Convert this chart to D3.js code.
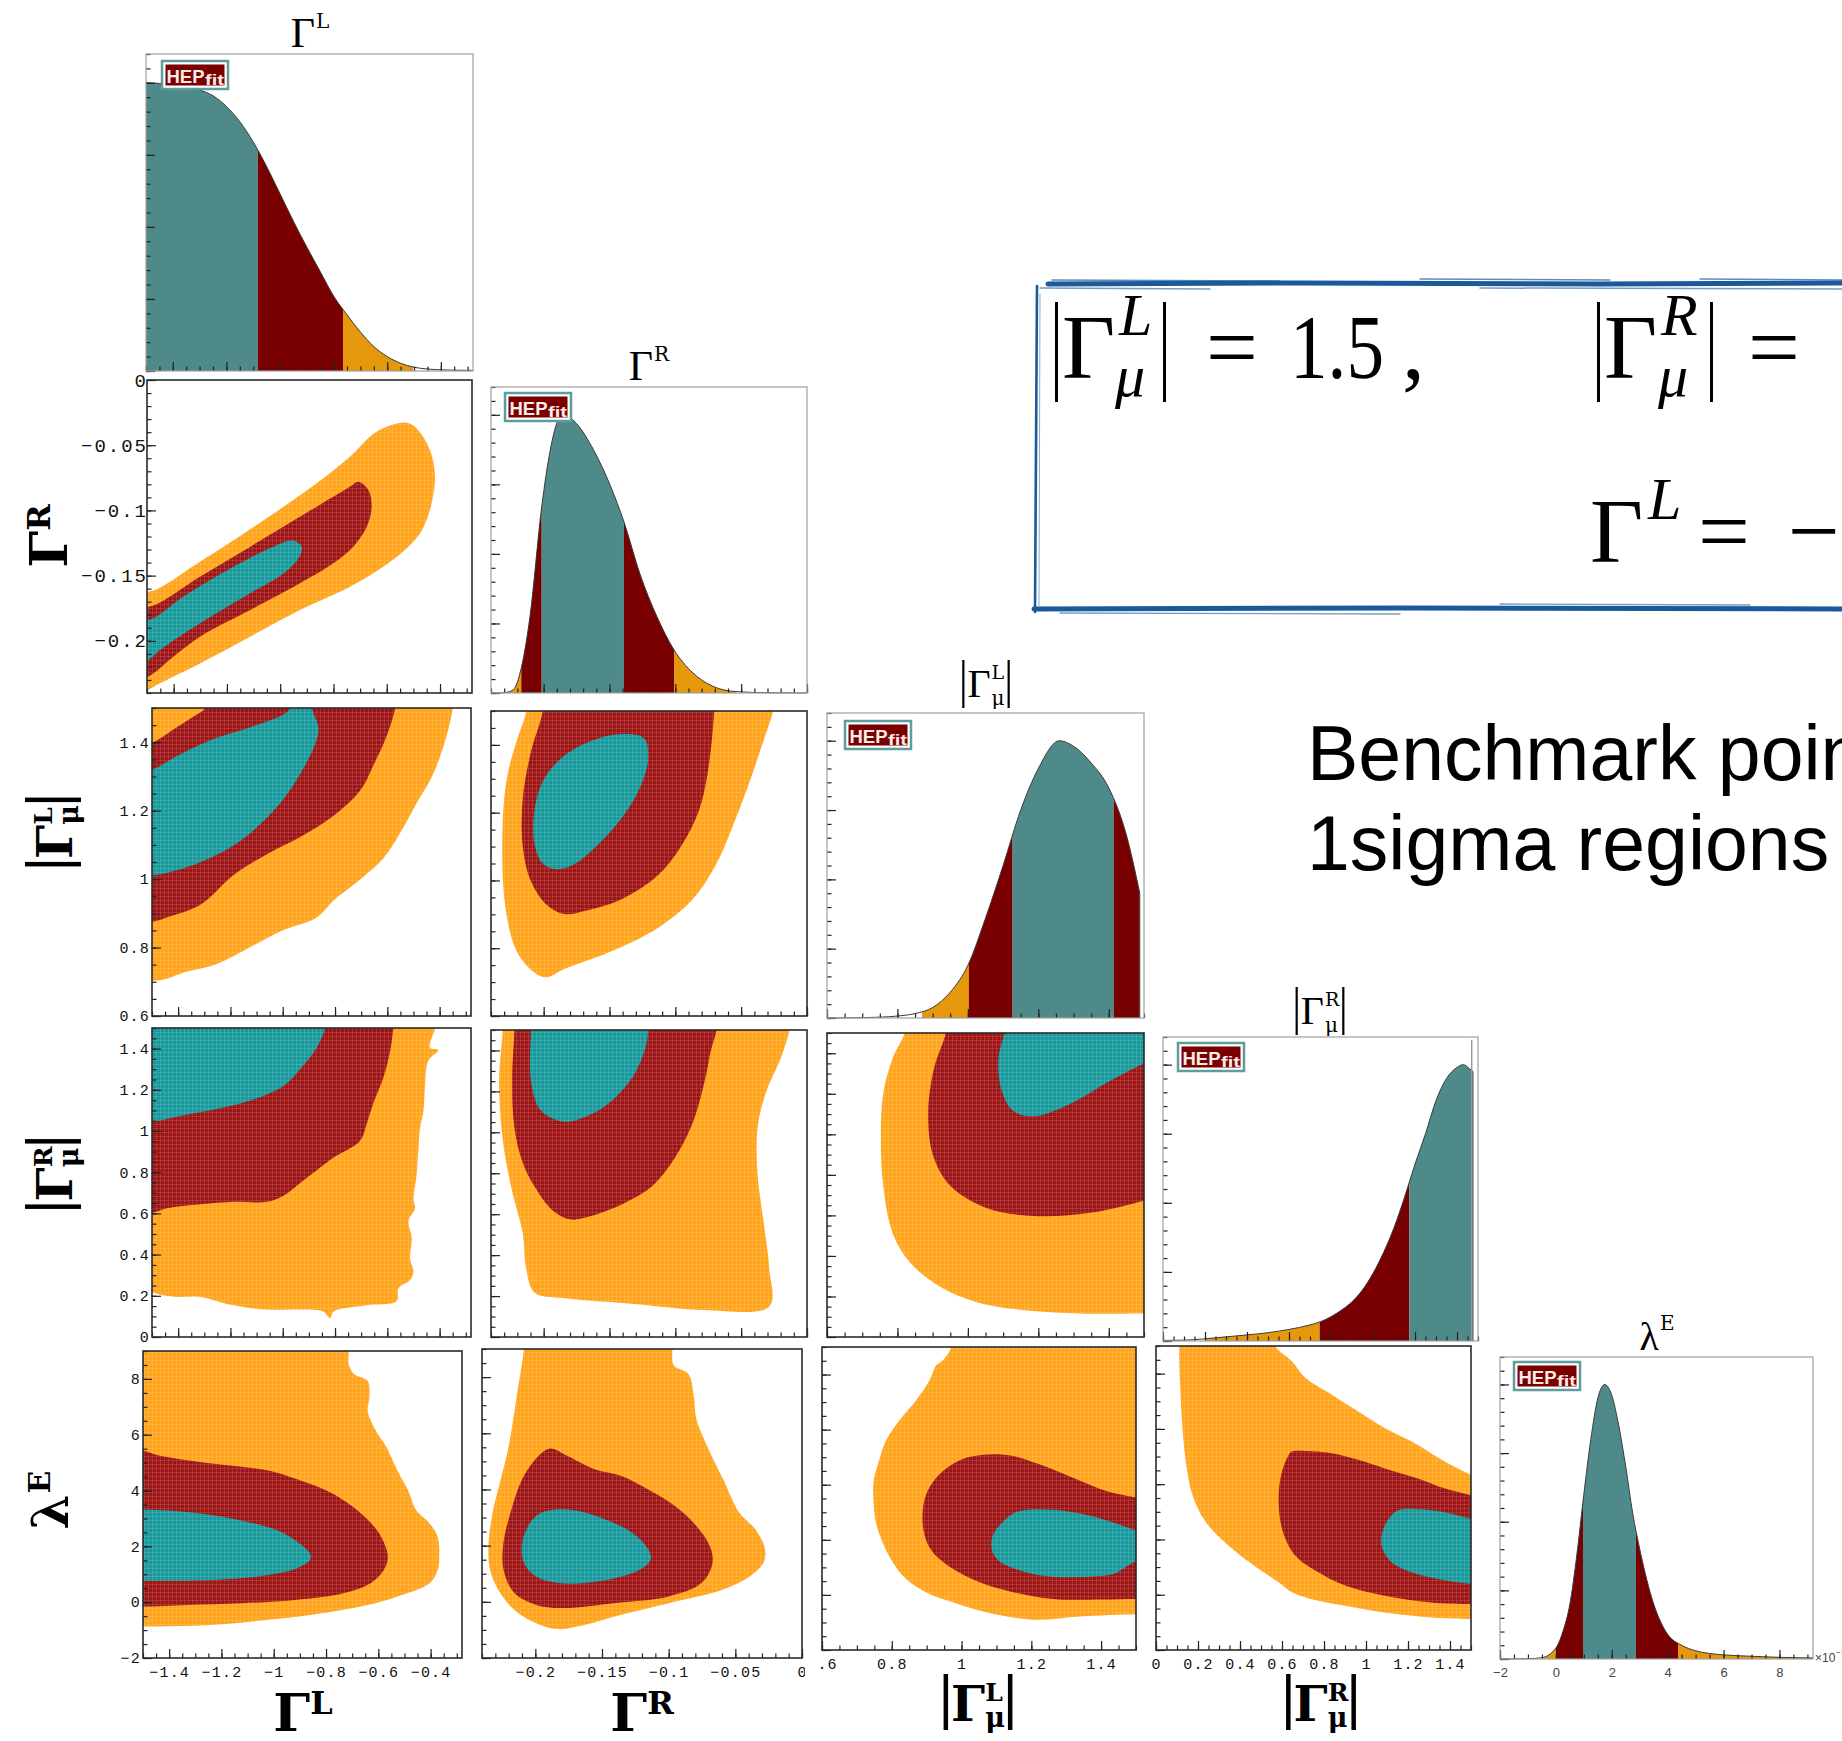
<!DOCTYPE html>
<html>
<head>
<meta charset="utf-8">
<script src="https://cdn.jsdelivr.net/npm/d3@7"></script>
<style>
html,body{margin:0;padding:0;background:#fff;}
svg{display:block;}
</style>
</head>
<body>
<svg id="fig" width="1842" height="1741"></svg>
<script>
// ---------------- parameter ranges and tick values ----------------
const domainGL = [-1.5, -0.28];
const domainGR = [-0.24, 0];
const domainML = [0.6, 1.5];
const domainMR = [0, 1.5];
const domainLE = [-2, 9];
const domainLEhist = [-2, 9.2];

const ticksGL = [-1.4, -1.2, -1, -0.8, -0.6, -0.4];
const ticksGR = [-0.2, -0.15, -0.1, -0.05, 0];
const ticksML = [0.6, 0.8, 1, 1.2, 1.4];
const ticksMR = [0, 0.2, 0.4, 0.6, 0.8, 1, 1.2, 1.4];
const ticksLE = [-2, 0, 2, 4, 6, 8];

// ---------------- 1D marginal posteriors (relative density) ----------------
const densGL = [[-1.5,1.0],[-1.45,0.998],[-1.4,0.993],[-1.35,0.985],[-1.3,0.975],[-1.25,0.955],[-1.2,0.918],[-1.15,0.865],[-1.1,0.795],[-1.05,0.71],[-1.0,0.615],[-0.95,0.52],[-0.9,0.43],[-0.85,0.345],[-0.8,0.26],[-0.75,0.195],[-0.7,0.135],[-0.65,0.085],[-0.6,0.05],[-0.55,0.027],[-0.5,0.013],[-0.45,0.007],[-0.4,0.004],[-0.35,0.003],[-0.28,0.002]];
const bandsGL = [[-1.5,-1.083,'t'],[-1.083,-0.765,'r'],[-0.765,-0.503,'o']];

const densGR = [[-0.24,0],[-0.235,0],[-0.229,0.002],[-0.223,0.012],[-0.217,0.09],[-0.2104,0.275],[-0.2015,0.669],[-0.195,0.873],[-0.189,0.98],[-0.184,1.0],[-0.175,0.968],[-0.162,0.873],[-0.149,0.741],[-0.139,0.615],[-0.127,0.43],[-0.114,0.275],[-0.101,0.155],[-0.0866,0.072],[-0.0715,0.024],[-0.054,0.005],[-0.03,0.001],[0,0]];
const bandsGR = [[-0.229,-0.217,'o'],[-0.217,-0.2015,'r'],[-0.2015,-0.139,'t'],[-0.139,-0.101,'r'],[-0.101,-0.054,'o']];

const densML = [[0.6,0],[0.7,0.001],[0.75,0.003],[0.8,0.007],[0.85,0.016],[0.9,0.038],[0.95,0.093],[1.0,0.19],[1.05,0.36],[1.1,0.55],[1.15,0.75],[1.2,0.9],[1.26,1.0],[1.3,0.98],[1.35,0.92],[1.4,0.83],[1.45,0.66],[1.488,0.45]];
const bandsML = [[0.87,1.003,'o'],[1.003,1.127,'r'],[1.127,1.414,'t'],[1.414,1.488,'r']];

const densMR = [[0,0.002],[0.1,0.003],[0.2,0.008],[0.3,0.015],[0.4,0.022],[0.5,0.03],[0.6,0.042],[0.7,0.058],[0.75,0.07],[0.8,0.088],[0.85,0.112],[0.9,0.142],[0.95,0.185],[1.0,0.245],[1.05,0.32],[1.1,0.41],[1.15,0.52],[1.2,0.64],[1.25,0.75],[1.3,0.87],[1.35,0.95],[1.4,0.99],[1.43,1.0],[1.46,0.985],[1.476,0.975]];
const bandsMR = [[0.2,0.746,'o'],[0.746,1.173,'r'],[1.173,1.476,'t']];
const spikeMR = [1.47, 1.09];

const densLE = [[-2,0],[-1,0.001],[-0.5,0.005],[0,0.04],[0.25,0.1],[0.5,0.2],[0.75,0.38],[1.0,0.6],[1.25,0.8],[1.5,0.95],[1.75,1.0],[2.0,0.96],[2.25,0.85],[2.5,0.7],[2.75,0.53],[3.0,0.4],[3.25,0.29],[3.5,0.2],[3.75,0.135],[4.0,0.09],[4.5,0.05],[5,0.03],[5.5,0.02],[6,0.015],[7,0.01],[8,0.006],[9.2,0.004]];
const bandsLE = [[-0.47,0,'o'],[0,0.97,'r'],[0.97,2.87,'t'],[2.87,4.37,'r'],[4.37,9.2,'o']];

// ---------------- 2D credible regions (outer, middle, inner) ----------------
// Γ^R vs Γ^L
const regGR_GL_o = [[-1.56,-0.158],[-1.495,-0.1623],[-1.301,-0.1393],[-1.051,-0.1061],[-0.863,-0.0792],[-0.738,-0.0588],[-0.638,-0.0396],[-0.525,-0.0327],[-0.488,-0.0371],[-0.438,-0.0537],[-0.419,-0.0741],[-0.438,-0.0997],[-0.475,-0.1176],[-0.532,-0.1304],[-0.613,-0.1432],[-0.738,-0.1585],[-0.926,-0.1764],[-1.113,-0.1968],[-1.301,-0.2173],[-1.451,-0.2326],[-1.495,-0.2377],[-1.56,-0.245]];
const regGR_GL_r = [[-1.56,-0.170],[-1.495,-0.1738],[-1.301,-0.1508],[-1.051,-0.1202],[-0.863,-0.0971],[-0.738,-0.0818],[-0.707,-0.0780],[-0.669,-0.0844],[-0.657,-0.0971],[-0.675,-0.1125],[-0.726,-0.1278],[-0.801,-0.1406],[-0.926,-0.1559],[-1.113,-0.1764],[-1.301,-0.1968],[-1.40,-0.2120],[-1.495,-0.2275],[-1.56,-0.232]];
const regGR_GL_t = [[-1.56,-0.181],[-1.495,-0.1840],[-1.364,-0.1662],[-1.176,-0.1432],[-1.026,-0.1278],[-0.951,-0.1232],[-0.919,-0.1278],[-0.932,-0.1368],[-0.988,-0.1483],[-1.113,-0.1636],[-1.301,-0.1866],[-1.451,-0.2071],[-1.495,-0.2147],[-1.56,-0.219]];
// |Γ^L_μ| vs Γ^L
const regML_GL_o = [[-1.56,0.70],[-1.494,0.703],[-1.443,0.709],[-1.379,0.727],[-1.252,0.752],[-1.124,0.8015],[-0.997,0.851],[-0.870,0.888],[-0.806,0.9375],[-0.704,0.999],[-0.615,1.061],[-0.551,1.135],[-0.488,1.222],[-0.424,1.308],[-0.373,1.420],[-0.350,1.5],[-0.345,1.56],[-1.56,1.56]];
const regML_GL_r = [[-1.56,0.872],[-1.494,0.876],[-1.443,0.888],[-1.315,0.925],[-1.188,1.012],[-1.061,1.073],[-0.933,1.123],[-0.806,1.185],[-0.704,1.259],[-0.653,1.333],[-0.602,1.420],[-0.570,1.5],[-0.565,1.56],[-1.27,1.56],[-1.296,1.5],[-1.341,1.475],[-1.417,1.438],[-1.494,1.401],[-1.56,1.39]];
const regML_GL_t = [[-1.56,1.008],[-1.494,1.012],[-1.443,1.018],[-1.315,1.049],[-1.188,1.098],[-1.086,1.160],[-0.997,1.234],[-0.933,1.308],[-0.882,1.383],[-0.863,1.438],[-0.889,1.5],[-0.9,1.56],[-0.96,1.56],[-0.971,1.5],[-0.997,1.481],[-1.124,1.444],[-1.252,1.413],[-1.379,1.370],[-1.494,1.321],[-1.56,1.30]];
// |Γ^R_μ| vs Γ^L
const regMR_GL_o = [[-1.56,0.22],[-1.494,0.215],[-1.468,0.205],[-1.404,0.1947],[-1.315,0.1947],[-1.188,0.1537],[-1.061,0.133],[-0.933,0.133],[-0.844,0.123],[-0.819,0.092],[-0.806,0.123],[-0.679,0.1537],[-0.564,0.1742],[-0.558,0.2357],[-0.513,0.2766],[-0.500,0.3176],[-0.513,0.379],[-0.507,0.4815],[-0.519,0.564],[-0.494,0.625],[-0.500,0.666],[-0.488,0.789],[-0.481,0.912],[-0.475,1.014],[-0.462,1.096],[-0.456,1.219],[-0.443,1.342],[-0.405,1.393],[-0.437,1.404],[-0.4175,1.5],[-0.415,1.56],[-1.56,1.56]];
const regMR_GL_r = [[-1.56,0.60],[-1.494,0.6045],[-1.443,0.625],[-1.315,0.645],[-1.188,0.656],[-1.061,0.656],[-0.997,0.686],[-0.933,0.748],[-0.870,0.809],[-0.806,0.871],[-0.704,0.953],[-0.679,1.035],[-0.653,1.137],[-0.615,1.260],[-0.590,1.383],[-0.577,1.5],[-0.575,1.56],[-1.56,1.56]];
const regMR_GL_t = [[-1.56,1.04],[-1.494,1.045],[-1.379,1.076],[-1.252,1.107],[-1.124,1.148],[-0.997,1.219],[-0.933,1.301],[-0.870,1.404],[-0.838,1.5],[-0.835,1.56],[-1.56,1.56]];
// λ^E vs Γ^L
const regLE_GL_o = [[-1.56,9.5],[-0.713,9.5],[-0.713,9],[-0.713,8.52],[-0.692,8.17],[-0.641,7.93],[-0.634,7.33],[-0.641,6.86],[-0.610,6.15],[-0.569,5.55],[-0.527,4.72],[-0.486,4.00],[-0.455,3.29],[-0.404,2.82],[-0.373,2.34],[-0.367,1.63],[-0.373,1.15],[-0.404,0.675],[-0.527,0.2],[-0.610,-0.038],[-0.816,-0.395],[-1.022,-0.633],[-1.228,-0.811],[-1.434,-0.870],[-1.5,-0.870],[-1.56,-0.87]];
const regLE_GL_r = [[-1.56,5.45],[-1.5,5.43],[-1.434,5.25],[-1.228,4.96],[-1.022,4.72],[-0.898,4.36],[-0.775,3.89],[-0.651,3.05],[-0.589,2.34],[-0.564,1.63],[-0.579,1.15],[-0.630,0.675],[-0.733,0.32],[-0.919,0.08],[-1.125,-0.038],[-1.331,-0.097],[-1.5,-0.157],[-1.56,-0.16]];
const regLE_GL_t = [[-1.56,3.33],[-1.5,3.32],[-1.331,3.23],[-1.125,2.93],[-0.960,2.46],[-0.857,1.63],[-0.898,1.27],[-1.022,0.97],[-1.228,0.795],[-1.434,0.77],[-1.5,0.77],[-1.56,0.77]];
// |Γ^L_μ| vs Γ^R
const regML_GR_o = [[-0.2132,1.56],[-0.2132,1.5],[-0.2204,1.413],[-0.2275,1.310],[-0.2311,1.171],[-0.2293,0.929],[-0.2204,0.790],[-0.207,0.728],[-0.198,0.714],[-0.1847,0.738],[-0.149,0.790],[-0.1133,0.860],[-0.0865,0.946],[-0.0687,1.05],[-0.0553,1.171],[-0.0419,1.310],[-0.033,1.413],[-0.0259,1.5],[-0.025,1.56]];
const regML_GR_r = [[-0.2007,1.56],[-0.2007,1.5],[-0.2097,1.379],[-0.2159,1.240],[-0.2159,1.102],[-0.2097,0.998],[-0.198,0.929],[-0.1847,0.901],[-0.1668,0.912],[-0.14,0.946],[-0.1133,1.015],[-0.0955,1.102],[-0.0821,1.206],[-0.0758,1.310],[-0.0723,1.413],[-0.0705,1.5],[-0.07,1.56]];
const regML_GR_t = [[-0.124,1.420],[-0.1205,1.362],[-0.1267,1.275],[-0.14,1.188],[-0.1579,1.109],[-0.1758,1.05],[-0.1891,1.033],[-0.2007,1.05],[-0.207,1.109],[-0.207,1.206],[-0.2007,1.292],[-0.1864,1.362],[-0.1668,1.407],[-0.1445,1.431]];
// |Γ^R_μ| vs Γ^R
const regMR_GR_o = [[-0.2311,1.56],[-0.2311,1.5],[-0.2338,1.253],[-0.2311,0.966],[-0.2248,0.736],[-0.2159,0.506],[-0.2132,0.333],[-0.207,0.218],[-0.1847,0.190],[-0.1312,0.161],[-0.0776,0.132],[-0.0286,0.149],[-0.0286,0.333],[-0.033,0.563],[-0.0375,0.793],[-0.0375,1.023],[-0.0312,1.195],[-0.0196,1.368],[-0.0134,1.5],[-0.013,1.56]];
const regMR_GR_r = [[-0.2222,1.56],[-0.2222,1.5],[-0.224,1.253],[-0.2222,1.023],[-0.2159,0.851],[-0.207,0.736],[-0.1936,0.621],[-0.1802,0.575],[-0.1668,0.586],[-0.14,0.650],[-0.1178,0.736],[-0.1,0.879],[-0.0865,1.052],[-0.0776,1.253],[-0.0731,1.397],[-0.0687,1.5],[-0.068,1.56]];
const regMR_GR_t = [[-0.2097,1.56],[-0.2097,1.5],[-0.2097,1.253],[-0.2025,1.109],[-0.1847,1.052],[-0.1668,1.080],[-0.149,1.149],[-0.1312,1.282],[-0.1222,1.425],[-0.1205,1.5],[-0.12,1.56]];
// λ^E vs Γ^R
const regLE_GR_o = [[-0.2086,9.5],[-0.2086,9],[-0.2099,8.52],[-0.2139,7.33],[-0.2199,5.55],[-0.2259,4.36],[-0.232,3.17],[-0.2352,1.98],[-0.234,1.15],[-0.2279,0.44],[-0.2159,-0.28],[-0.1998,-0.75],[-0.1837,-0.97],[-0.1676,-0.87],[-0.1395,-0.51],[-0.0993,-0.04],[-0.0591,0.44],[-0.039,0.91],[-0.0289,1.39],[-0.0277,1.87],[-0.035,2.58],[-0.047,3.17],[-0.0591,4.36],[-0.0712,5.55],[-0.0792,6.50],[-0.0812,7.33],[-0.0852,8.11],[-0.0961,8.41],[-0.0973,9],[-0.0973,9.5]];
const regLE_GR_r = [[-0.1877,5.46],[-0.1757,5.19],[-0.1556,4.72],[-0.1355,4.48],[-0.1154,4.00],[-0.0953,3.41],[-0.0792,2.70],[-0.0691,1.98],[-0.0671,1.39],[-0.0752,0.675],[-0.0993,0.2],[-0.1395,-0.04],[-0.1797,-0.22],[-0.1998,-0.10],[-0.2159,0.32],[-0.2239,1.15],[-0.2239,2.10],[-0.2179,3.29],[-0.2099,4.36],[-0.1998,5.08],[-0.1918,5.41]];
const regLE_GR_t = [[-0.1837,3.29],[-0.1676,3.23],[-0.1475,2.93],[-0.1274,2.46],[-0.1154,1.87],[-0.1134,1.51],[-0.1214,1.15],[-0.1395,0.85],[-0.1676,0.65],[-0.1837,0.675],[-0.1998,0.91],[-0.2086,1.39],[-0.2099,2.10],[-0.2038,2.82],[-0.1958,3.17]];
// |Γ^R_μ| vs |Γ^L_μ|
const regMR_ML_o = [[0.820,1.56],[0.820,1.5],[0.787,1.378],[0.760,1.205],[0.753,0.973],[0.760,0.741],[0.787,0.510],[0.837,0.365],[0.920,0.249],[1.020,0.174],[1.153,0.133],[1.320,0.116],[1.5,0.116],[1.56,0.116],[1.56,1.56]];
const regMR_ML_r = [[0.937,1.56],[0.937,1.5],[0.903,1.320],[0.887,1.089],[0.903,0.886],[0.953,0.741],[1.053,0.637],[1.187,0.597],[1.353,0.614],[1.5,0.672],[1.56,0.70],[1.56,1.56]];
const regMR_ML_t = [[1.103,1.56],[1.103,1.5],[1.087,1.378],[1.093,1.234],[1.127,1.118],[1.187,1.089],[1.287,1.147],[1.403,1.263],[1.5,1.349],[1.56,1.39],[1.56,1.56]];
// λ^E vs |Γ^L_μ|
const regLE_ML_o = [[0.971,9.5],[0.971,9],[0.946,8.51],[0.927,8.33],[0.908,7.78],[0.869,7.05],[0.821,6.32],[0.783,5.59],[0.763,4.85],[0.748,4.12],[0.748,3.39],[0.754,2.66],[0.773,1.93],[0.802,1.20],[0.840,0.585],[0.898,0.10],[0.975,-0.27],[1.071,-0.63],[1.206,-0.90],[1.340,-0.78],[1.5,-0.70],[1.56,-0.70],[1.56,9.5]];
const regLE_ML_r = [[1.013,4.98],[1.081,5.10],[1.148,5.04],[1.225,4.73],[1.321,4.24],[1.417,3.76],[1.5,3.54],[1.56,3.45],[1.56,-0.15],[1.5,-0.15],[1.398,-0.17],[1.263,-0.15],[1.148,0.10],[1.052,0.46],[0.975,0.95],[0.917,1.56],[0.894,2.17],[0.888,2.90],[0.898,3.63],[0.927,4.24],[0.965,4.67]];
const regLE_ML_t = [[1.187,3.09],[1.263,3.09],[1.360,2.90],[1.456,2.54],[1.5,2.35],[1.56,2.25],[1.56,1.10],[1.5,1.20],[1.437,0.77],[1.340,0.65],[1.244,0.68],[1.167,0.89],[1.110,1.20],[1.087,1.62],[1.090,2.17],[1.119,2.66],[1.148,2.96]];
// λ^E vs |Γ^R_μ|
const regLE_MR_o = [[0.111,9.5],[0.568,9.5],[0.568,9],[0.647,8.45],[0.711,7.85],[0.837,7.24],[0.963,6.63],[1.089,6.03],[1.247,5.42],[1.374,4.82],[1.5,4.33],[1.56,4.1],[1.56,-0.9],[1.5,-0.88],[1.311,-0.82],[1.089,-0.64],[0.9,-0.40],[0.742,-0.16],[0.647,0.09],[0.584,0.45],[0.489,0.93],[0.363,1.66],[0.237,2.63],[0.174,3.60],[0.142,4.82],[0.126,6.03],[0.117,7.24],[0.111,8.45],[0.111,9]];
const regLE_MR_r = [[0.647,5.18],[0.711,5.20],[0.837,5.12],[0.963,4.88],[1.089,4.57],[1.247,4.21],[1.374,3.85],[1.5,3.60],[1.56,3.5],[1.56,-0.36],[1.5,-0.34],[1.311,-0.28],[1.089,-0.04],[0.9,0.33],[0.774,0.81],[0.663,1.42],[0.6,2.39],[0.584,3.60],[0.6,4.45],[0.632,5.06]];
const regLE_MR_t = [[1.153,3.06],[1.311,3.06],[1.437,2.88],[1.5,2.75],[1.56,2.7],[1.56,0.36],[1.5,0.39],[1.342,0.57],[1.216,0.81],[1.121,1.18],[1.074,1.78],[1.083,2.39],[1.115,2.81]];

// ---------------- styling ----------------
const COL2D = ['#ffa41b', '#9e1515', '#189a9c'];
const COLH = {o: '#e6980c', r: '#780000', t: '#4f8a8a'};
const MONO = '"Liberation Mono", "DejaVu Sans Mono", monospace';
const SERIF = '"Liberation Serif", "DejaVu Serif", serif';
const SLAB = '"DejaVu Serif", serif';
const SANS = '"Liberation Sans", Arial, sans-serif';

const VARS = {
  GL: {dom: domainGL, major: ticksGL, minor: 0.05},
  GR: {dom: domainGR, major: ticksGR, minor: 0.01},
  ML: {dom: domainML, major: ticksML, minor: 0.05},
  MR: {dom: domainMR, major: ticksMR, minor: 0.05},
  LE: {dom: domainLE, major: ticksLE, minor: 0.5},
  LH: {dom: domainLEhist, major: ticksLE, minor: 0.5}
};

const svg = d3.select('#fig');
const defs = svg.append('defs');
svg.append('rect').attr('width', 1842).attr('height', 1741).attr('fill', '#fff');

// faint fill grid seen on the 2D regions
const pat = defs.append('pattern').attr('id', 'grain').attr('width', 4).attr('height', 4)
  .attr('patternUnits', 'userSpaceOnUse');
pat.append('path').attr('d', 'M0 0.5H4M0.5 0V4').attr('stroke', '#fff')
  .attr('stroke-opacity', 0.12).attr('stroke-width', 1);

let clipN = 0;
function clipRect(x0, y0, x1, y1) {
  const id = 'clip' + (clipN++);
  defs.append('clipPath').attr('id', id).append('rect')
    .attr('x', x0).attr('y', y0).attr('width', x1 - x0).attr('height', y1 - y0);
  return `url(#${id})`;
}

function stepTicks(dom, step) {
  const out = [];
  const s = Math.ceil(dom[0] / step - 1e-6), e = Math.floor(dom[1] / step + 1e-6);
  for (let i = s; i <= e; i++) out.push(+(i * step).toFixed(6));
  return out;
}
const fmt = d => (d < 0 ? '−' : '') + String(+Math.abs(d).toFixed(4));

function styleAxis(sel) {
  sel.select('.domain').remove();
  sel.selectAll('.tick line').attr('stroke', '#222').attr('stroke-width', 1.2);
}

// inward ticks on left and bottom edges, optional labels
function drawAxes(g, box, xs, ys, vx, vy, opt) {
  const [x0, y0, x1, y1] = box;
  const bx = g.append('g').attr('transform', `translate(0,${y1})`);
  bx.call(d3.axisBottom(xs).tickValues(stepTicks(xs.domain(), vx.minor)).tickSize(-4.5).tickFormat(''))
    .call(styleAxis);
  const bxM = g.append('g').attr('transform', `translate(0,${y1})`);
  bxM.call(d3.axisBottom(xs).tickValues(vx.major).tickSize(-9).tickPadding(opt.xPad || 8.5)
      .tickFormat(opt.xLabels ? (opt.xFmt || fmt) : ''))
    .call(styleAxis);
  bxM.selectAll('text').attr('font-family', opt.xFont || MONO).attr('font-size', opt.xSize || 15)
    .attr('letter-spacing', opt.xSpacing !== undefined ? opt.xSpacing : 1.2).attr('fill', opt.xColor || '#111');
  // clip is expressed in the axis group's own (translated) coordinates
  if (opt.xClip) bxM.attr('clip-path', clipRect(opt.xClip[0], -20, opt.xClip[1], 40));

  const by = g.append('g').attr('transform', `translate(${x0},0)`);
  by.call(d3.axisLeft(ys).tickValues(stepTicks(ys.domain(), vy.minor)).tickSize(-4.5).tickFormat(''))
    .call(styleAxis);
  const byM = g.append('g').attr('transform', `translate(${x0},0)`);
  byM.call(d3.axisLeft(ys).tickValues(vy.major).tickSize(-9).tickPadding(opt.yPad !== undefined ? opt.yPad : 2)
      .tickFormat(opt.yLabels ? fmt : ''))
    .call(styleAxis);
  byM.selectAll('text').attr('font-family', MONO).attr('font-size', opt.ySize || 15)
    .attr('letter-spacing', opt.ySpacing !== undefined ? opt.ySpacing : 1.2).attr('fill', '#111');
}

function panel2D(p) {
  const [x0, y0, x1, y1] = p.box;
  const vx = VARS[p.x], vy = VARS[p.y];
  const xs = d3.scaleLinear().domain(vx.dom).range([x0, x1]);
  const ys = d3.scaleLinear().domain(vy.dom).range([y1, y0]);
  const g = svg.append('g');
  const fg = g.append('g').attr('clip-path', clipRect(x0, y0, x1, y1));
  const line = d3.line().x(d => xs(d[0])).y(d => ys(d[1])).curve(d3.curveCatmullRomClosed.alpha(0.5));
  p.layers.forEach((pts, i) => {
    fg.append('path').attr('d', line(pts)).attr('fill', COL2D[i]);
    fg.append('path').attr('d', line(pts)).attr('fill', 'url(#grain)');
  });
  drawAxes(g, p.box, xs, ys, vx, vy, p);
  g.append('rect').attr('x', x0).attr('y', y0).attr('width', x1 - x0).attr('height', y1 - y0)
    .attr('fill', 'none').attr('stroke', '#2a2a2a').attr('stroke-width', 1.6);
}

function logo(g, x, y) {
  g.append('rect').attr('x', x).attr('y', y).attr('width', 66).attr('height', 28)
    .attr('fill', '#fff').attr('stroke', '#5f9c9c').attr('stroke-width', 2.5);
  g.append('rect').attr('x', x + 3.5).attr('y', y + 3.5).attr('width', 59).attr('height', 21).attr('fill', '#7a0000');
  g.append('text').attr('x', x + 4.5).attr('y', y + 22).attr('font-family', SANS).attr('font-weight', 'bold')
    .attr('font-size', 19).attr('fill', '#fbeaea').attr('textLength', 38).attr('lengthAdjust', 'spacingAndGlyphs').text('HEP');
  g.append('text').attr('x', x + 43).attr('y', y + 24).attr('font-family', SANS).attr('font-weight', 'bold')
    .attr('font-size', 14).attr('fill', '#fbeaea').attr('textLength', 19).attr('lengthAdjust', 'spacingAndGlyphs').text('fit');
}

function panelHist(p) {
  const [x0, y0, x1, y1] = p.box;
  const vx = VARS[p.x];
  const xs = d3.scaleLinear().domain(vx.dom).range([x0, x1]);
  const ys = d3.scaleLinear().domain([0, 1.1]).range([y1, y0]);
  const g = svg.append('g');
  const area = d3.area().x(d => xs(d[0])).y0(y1).y1(d => ys(d[1])).curve(d3.curveMonotoneX);
  p.bands.forEach(b => {
    g.append('path').attr('d', area(p.dens)).attr('fill', COLH[b[2]])
      .attr('clip-path', clipRect(xs(b[0]), y0, xs(b[1]), y1));
  });
  const ln = d3.line().x(d => xs(d[0])).y(d => ys(d[1])).curve(d3.curveMonotoneX);
  g.append('path').attr('d', ln(p.dens)).attr('fill', 'none').attr('stroke', '#3a3a3a').attr('stroke-width', 1);
  const last = p.dens[p.dens.length - 1];
  if (last[1] > 0.05) {
    g.append('line').attr('x1', xs(last[0])).attr('x2', xs(last[0])).attr('y1', ys(last[1])).attr('y2', y1)
      .attr('stroke', '#3a3a3a').attr('stroke-width', 1);
  }
  if (p.spike) {
    g.append('line').attr('x1', xs(p.spike[0])).attr('x2', xs(p.spike[0])).attr('y1', ys(p.spike[1])).attr('y2', y1)
      .attr('stroke', '#9a9a9a').attr('stroke-width', 1.5);
  }
  drawAxes(g, p.box, xs, ys, vx, {major: d3.range(0, 1.11, 0.25), minor: 0.05}, p);
  g.append('rect').attr('x', x0).attr('y', y0).attr('width', x1 - x0).attr('height', y1 - y0)
    .attr('fill', 'none').attr('stroke', '#a0a0a0').attr('stroke-width', 1.2);
  logo(g, p.logo[0], p.logo[1]);
}

// symbol label such as |Γ^L_μ|, optionally rotated to read upward
function sym(cx, cy, o, rotate) {
  const outer = svg.append('g').attr('transform', `translate(${cx},${cy})${rotate ? ' rotate(-90)' : ''}`);
  const g = outer.append('g');
  let x = 0;
  const bars = [];
  if (o.bars) { bars.push(x); x += o.barW + o.barGap; }
  const t = g.append('text').attr('x', x).attr('y', 0).attr('font-family', o.font).attr('font-size', o.size)
    .attr('font-weight', o.weight || 'normal').text(o.base);
  x += t.node().getComputedTextLength() + (o.supGap || 0);
  let w = 0;
  if (o.sup) {
    const s = g.append('text').attr('x', x).attr('y', o.supDy).attr('font-family', o.supFont || SLAB)
      .attr('font-size', o.supSize).attr('font-weight', o.weight || 'normal').text(o.sup);
    w = Math.max(w, s.node().getComputedTextLength());
  }
  if (o.sub) {
    const s = g.append('text').attr('x', x).attr('y', o.subDy).attr('font-family', o.supFont || SLAB)
      .attr('font-size', o.subSize).attr('font-weight', o.weight || 'normal').text(o.sub);
    w = Math.max(w, s.node().getComputedTextLength());
  }
  x += w;
  if (o.bars) { x += o.barGap; bars.push(x); x += o.barW; }
  bars.forEach(bx => g.append('rect').attr('x', bx).attr('y', o.barTop).attr('width', o.barW)
    .attr('height', o.barH).attr('fill', '#000'));
  g.attr('transform', `translate(${-x / 2},0)`);
}

// ---------------- layout ----------------
panelHist({box: [146, 54, 473, 371], x: 'GL', dens: densGL, bands: bandsGL, logo: [162, 61]});
panelHist({box: [491, 387, 807, 693], x: 'GR', dens: densGR, bands: bandsGR, logo: [505, 393]});
panelHist({box: [827, 713, 1144, 1018], x: 'ML', dens: densML, bands: bandsML, logo: [845, 721]});
panelHist({box: [1163, 1037, 1478, 1341], x: 'MR', dens: densMR, bands: bandsMR, logo: [1178, 1043], spike: spikeMR});
panelHist({box: [1500, 1357, 1813, 1659], x: 'LH', dens: densLE, bands: bandsLE, logo: [1514, 1362],
  xLabels: true, xFont: SANS, xSize: 13, xSpacing: 0, xPad: 9, xColor: '#444', xFmt: d => (d < 0 ? '−' : '') + Math.abs(d)});

panel2D({box: [147, 380, 472, 693], x: 'GL', y: 'GR', layers: [regGR_GL_o, regGR_GL_r, regGR_GL_t],
  yLabels: true, yPad: -1, ySize: 19, ySpacing: 2});
panel2D({box: [152, 708, 471, 1016], x: 'GL', y: 'ML', layers: [regML_GL_o, regML_GL_r, regML_GL_t], yLabels: true});
panel2D({box: [491, 711, 807, 1016], x: 'GR', y: 'ML', layers: [regML_GR_o, regML_GR_r, regML_GR_t]});
panel2D({box: [152, 1028, 471, 1337], x: 'GL', y: 'MR', layers: [regMR_GL_o, regMR_GL_r, regMR_GL_t], yLabels: true});
panel2D({box: [491, 1030, 807, 1337], x: 'GR', y: 'MR', layers: [regMR_GR_o, regMR_GR_r, regMR_GR_t]});
panel2D({box: [827, 1033, 1144, 1337], x: 'ML', y: 'MR', layers: [regMR_ML_o, regMR_ML_r, regMR_ML_t]});
panel2D({box: [143, 1351, 462, 1658], x: 'GL', y: 'LE', layers: [regLE_GL_o, regLE_GL_r, regLE_GL_t], yLabels: true, xLabels: true});
panel2D({box: [482, 1349, 802, 1658], x: 'GR', y: 'LE', layers: [regLE_GR_o, regLE_GR_r, regLE_GR_t], xLabels: true, xClip: [470, 805]});
panel2D({box: [822, 1347, 1136, 1650], x: 'ML', y: 'LE', layers: [regLE_ML_o, regLE_ML_r, regLE_ML_t], xLabels: true, xClip: [819, 1150]});
panel2D({box: [1156, 1346, 1471, 1650], x: 'MR', y: 'LE', layers: [regLE_MR_o, regLE_MR_r, regLE_MR_t], xLabels: true});

// scale factor note on the λ^E axis
svg.append('text').attr('x', 1815).attr('y', 1662).attr('font-family', SANS).attr('font-size', 12)
  .attr('fill', '#444').text('×10');
svg.append('text').attr('x', 1836).attr('y', 1655).attr('font-family', SANS).attr('font-size', 8)
  .attr('fill', '#444').text('−1');

// ---------------- symbol labels ----------------
const bigG = (sup) => ({base: 'Γ', font: SLAB, size: 52, weight: 'bold', sup: sup, supSize: 32, supDy: -17, supGap: 0});
const bigAbs = (sup) => ({bars: true, barW: 4.5, barGap: 3, barTop: -47, barH: 56, base: 'Γ', font: SLAB, size: 48,
  weight: 'bold', sup: sup, supSize: 25, supDy: -20, sub: 'μ', subSize: 27, subDy: 6, supGap: 0});
const bigLam = {base: 'λ', font: SLAB, size: 50, weight: 'bold', sup: 'E', supSize: 30, supDy: -18, supGap: 1};

// bottom axis titles
sym(303, 1731, bigG('L'));
sym(642, 1731, bigG('R'));
sym(978, 1721, bigAbs('L'));
sym(1321, 1721, bigAbs('R'));
// left axis titles (rotated)
sym(67, 536, bigG('R'), true);
sym(72, 832, bigAbs('L'), true);
sym(72, 1174, bigAbs('R'), true);
sym(68, 1500, bigLam, true);

// titles above the marginal plots
const tG = (sup) => ({base: 'Γ', font: SERIF, size: 42, sup: sup, supSize: 20, supDy: -19, supGap: 1});
const tAbs = (sup) => ({bars: true, barW: 2.2, barGap: 3, barTop: -37, barH: 48, base: 'Γ', font: SERIF, size: 40,
  sup: sup, supSize: 19, supDy: -18, sub: 'μ', subSize: 20, subDy: 8, supGap: 1});
sym(310, 47, tG('L'));
sym(649, 380, tG('R'));
sym(986, 697, tAbs('L'));
sym(1320, 1024, tAbs('R'));
sym(1657, 1350, {base: 'λ', font: SERIF, size: 40, sup: 'E', supSize: 20, supDy: -20, supGap: 1});

// ---------------- benchmark box ----------------
const bb = svg.append('g').attr('fill', 'none').attr('stroke', '#1b5a9a').attr('stroke-linecap', 'round');
bb.append('path').attr('d', 'M1048,284 L1300,283 L1600,284 L1842,283').attr('stroke-width', 5);
bb.append('path').attr('d', 'M1052,280 L1280,281 M1420,279 L1610,280 M1700,279 L1842,280').attr('stroke-width', 1.5).attr('opacity', 0.7);
bb.append('path').attr('d', 'M1040,288 L1210,289 M1480,288 L1842,289').attr('stroke-width', 1.5).attr('opacity', 0.6);
bb.append('path').attr('d', 'M1037,286 L1036,450 L1035,612').attr('stroke-width', 2.6);
bb.append('path').attr('d', 'M1040,294 L1039,606').attr('stroke-width', 1).attr('opacity', 0.5);
bb.append('path').attr('d', 'M1034,609 L1400,608 L1842,609').attr('stroke-width', 5);
bb.append('path').attr('d', 'M1060,613 L1400,614 M1500,604 L1750,605').attr('stroke-width', 1.3).attr('opacity', 0.6);

const fm = svg.append('g').attr('font-family', SERIF).attr('fill', '#000');
function ftext(x, y, s, size, italic, len) {
  const t = fm.append('text').attr('x', x).attr('y', y).attr('font-size', size)
    .attr('font-style', italic ? 'italic' : 'normal').text(s);
  if (len) t.attr('textLength', len).attr('lengthAdjust', 'spacingAndGlyphs');
}
function fbar(x, ya, yb) {
  fm.append('rect').attr('x', x).attr('y', ya).attr('width', 3).attr('height', yb - ya);
}
fbar(1055, 302, 402); ftext(1062, 378, 'Γ', 92); ftext(1119, 335, 'L', 60, true); ftext(1115, 396, 'μ', 60, true); fbar(1163, 302, 402);
ftext(1206, 378, '=', 92); ftext(1290, 378, '1.5', 92, false, 94); ftext(1402, 378, ',', 92);
fbar(1597, 302, 402); ftext(1604, 378, 'Γ', 92); ftext(1661, 335, 'R', 60, true); ftext(1658, 396, 'μ', 60, true); fbar(1710, 302, 402);
ftext(1748, 378, '=', 92); ftext(1834, 378, '1', 92);
ftext(1590, 562, 'Γ', 92); ftext(1648, 519, 'L', 60, true); ftext(1698, 562, '=', 92); ftext(1788, 562, '−', 92);

// ---------------- caption ----------------
const cap = svg.append('g').attr('font-family', SANS).attr('font-size', 77).attr('fill', '#000');
cap.append('text').attr('x', 1307).attr('y', 780).text('Benchmark point');
cap.append('text').attr('x', 1307).attr('y', 870).text('1sigma regions');
</script>
</body>
</html>
